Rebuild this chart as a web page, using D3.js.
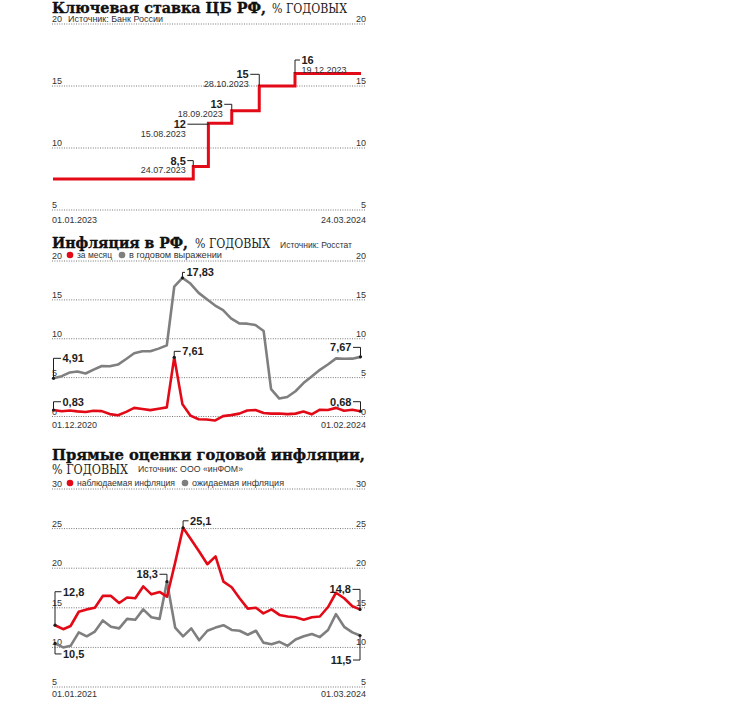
<!DOCTYPE html>
<html><head><meta charset="utf-8">
<script src="https://cdn.jsdelivr.net/npm/d3@7"></script>
<style>body{margin:0;background:#fff}svg{display:block}</style>
</head><body><svg id="c" width="750" height="709"></svg>
<script>
// ---------- DATA ----------
// Chart 1: key rate
const rateDates = ["2023-01-01","2023-07-24","2023-08-15","2023-09-18","2023-10-28","2023-12-19","2024-03-24"];
const rateValues = [7.5, 8.5, 12, 13, 15, 16, 16];
const rateLabelDates = ["", "24.07.2023", "15.08.2023", "18.09.2023", "28.10.2023", "19.12.2023", ""];
const rateTicks = [5, 10, 15, 20];
const rateAxisLabels = ["01.01.2023", "24.03.2024"];

// Chart 2: inflation (Dec 2020 .. Feb 2024)
const inflStart = "2020-12-01", inflEnd = "2024-02-01";
const monthlyInfl = [0.83, 0.67, 0.78, 0.66, 0.58, 0.74, 0.69, 0.31, 0.17, 0.60, 1.11, 0.96, 0.82,
  0.99, 1.17, 7.61, 1.56, 0.12, -0.35, -0.39, -0.52, 0.05, 0.18, 0.37, 0.78,
  0.84, 0.46, 0.37, 0.38, 0.31, 0.37, 0.63, 0.28, 0.87, 0.83, 1.11, 0.73,
  0.86, 0.68];
const annualInfl = [4.91, 5.19, 5.67, 5.79, 5.53, 6.02, 6.50, 6.46, 6.68, 7.40, 8.13, 8.40, 8.39,
  8.73, 9.15, 16.69, 17.83, 17.10, 15.90, 15.10, 14.30, 13.68, 12.63, 11.98, 11.94,
  11.77, 10.99, 3.51, 2.31, 2.51, 3.25, 4.30, 5.15, 6.00, 6.69, 7.48, 7.42,
  7.44, 7.67];
const inflTicks = [0, 5, 10, 15, 20];
const inflAxisLabels = ["01.12.2020", "01.02.2024"];

// Chart 3: inFOM estimates (Jan 2021 .. Mar 2024)
const estStart = "2021-01-01", estEnd = "2024-03-01";
const observedInfl = [12.8, 12.3, 12.7, 14.5, 14.8, 15.0, 16.5, 16.5, 15.6, 16.3, 16.2, 17.7,
  16.7, 17.0, 16.4, 20.7, 25.1, 23.6, 22.1, 20.5, 21.5, 18.3, 17.6, 16.2,
  14.9, 15.0, 14.3, 14.8, 14.1, 13.9, 13.8, 13.5, 13.8, 13.9, 15.1, 16.9,
  16.2, 15.2, 14.8];
const expectedInfl = [10.5, 10.0, 10.2, 11.9, 11.4, 12.0, 13.4, 12.6, 12.4, 13.6, 13.5, 14.8,
  13.8, 13.6, 18.3, 12.5, 11.4, 12.4, 10.9, 12.1, 12.5, 12.8, 12.2, 12.1,
  11.6, 12.1, 10.6, 10.4, 10.7, 10.2, 11.0, 11.4, 11.7, 11.3, 12.2, 14.2,
  12.6, 11.9, 11.5];
const estTicks = [5, 10, 15, 20, 25, 30];
const estAxisLabels = ["01.01.2021", "01.03.2024"];

// ---------- STYLE ----------
const RED = "#e30a17", GREY = "#7f7f7f", INK = "#1e1e1e";
const SANS = "'Liberation Sans', Arial, sans-serif";
const SERIF = "'DejaVu Serif', serif";
const parse = d3.timeParse("%Y-%m-%d");
const fmtNum = v => String(v).replace(".", ",");
const svg = d3.select("#c");
svg.append("rect").attr("width", 750).attr("height", 709).attr("fill", "#fff");

const GX0 = 52, GX1 = 366;

function title(y, text, w) {
  svg.append("text").attr("x", GX0).attr("y", y).text(text)
    .attr("font-family", SERIF).attr("font-weight", "bold").attr("font-size", 14.5)
    .attr("fill", "#111").attr("stroke", "#111").attr("stroke-width", 0.35)
    .attr("textLength", w).attr("lengthAdjust", "spacingAndGlyphs");
}
function subTitle(x, y, text, w) {
  svg.append("text").attr("x", x).attr("y", y).text(text)
    .attr("font-family", SERIF).attr("font-size", 12).attr("fill", "#222")
    .attr("textLength", w).attr("lengthAdjust", "spacingAndGlyphs");
}
function small(x, y, text, anchor, w) {
  const t = svg.append("text").attr("x", x).attr("y", y).text(text)
    .attr("font-family", SANS).attr("font-size", 9).attr("fill", "#333")
    .attr("text-anchor", anchor || "start");
  if (w) t.attr("textLength", w).attr("lengthAdjust", "spacingAndGlyphs");
  return t;
}
function grid(y, ticks) {
  const g = svg.append("g");
  ticks.forEach(t => {
    g.append("line").attr("x1", GX0).attr("x2", GX1).attr("y1", y(t)).attr("y2", y(t))
      .attr("stroke", "#777").attr("stroke-width", 1).attr("stroke-dasharray", "1,1.4");
    small(GX0, y(t) - 2, t, "start");
    small(GX1, y(t) - 2, t, "end");
  });
}
function legendItem(cx, cy, color, text, w) {
  svg.append("circle").attr("cx", cx).attr("cy", cy).attr("r", 3.3).attr("fill", color);
  small(cx + 7, cy + 3, text, "start", w);
}
// annotation: point (px,py), elbow dy, horizontal len with side (+1 right / -1 left)
function annotate(px, py, dy, side, len, value, dateText, dot) {
  const cy = py + dy, ex = px + side * len;
  svg.append("path").attr("d", `M${px},${py}V${cy}H${ex}`)
    .attr("fill", "none").attr("stroke", INK).attr("stroke-width", 1);
  if (dot) svg.append("circle").attr("cx", px).attr("cy", py).attr("r", 1.6).attr("fill", INK);
  const lx = ex + side * 1.5, anchor = side > 0 ? "start" : "end";
  svg.append("text").attr("x", lx).attr("y", cy + 4).text(fmtNum(value))
    .attr("font-family", SANS).attr("font-weight", "bold").attr("font-size", 11)
    .attr("fill", INK).attr("text-anchor", anchor);
  if (dateText) small(lx, cy + 12.5, dateText, anchor);
}

// ---------- CHART 1 ----------
{
  const x = d3.scaleTime().domain([parse(rateDates[0]), parse(rateDates[rateDates.length - 1])]).range([53, 361]);
  const y = d3.scaleLinear().domain([5, 20]).range([210, 24]);
  title(13, "Ключевая ставка ЦБ РФ,", 214);
  subTitle(272, 13, "% ГОДОВЫХ", 75);
  grid(y, rateTicks);
  small(68, 22, "Источник: Банк России", "start", 95);
  const data = rateDates.map((d, i) => ({ d: parse(d), v: rateValues[i] }));
  svg.append("path").datum(data)
    .attr("d", d3.line().x(d => x(d.d)).y(d => y(d.v)).curve(d3.curveStepAfter))
    .attr("fill", "none").attr("stroke", RED).attr("stroke-width", 3);
  small(GX0, 223, rateAxisLabels[0], "start");
  small(GX1, 223, rateAxisLabels[1], "end");
  const ann = [null,
    { dy: -6, side: -1, len: 6 },
    { dy: 1, side: -1, len: 21 },
    { dy: -6.5, side: -1, len: 7.5 },
    { dy: -11.7, side: -1, len: 9 },
    { dy: -13.6, side: 1, len: 5 }];
  for (let i = 1; i <= 5; i++) {
    const a = ann[i];
    annotate(x(data[i].d), y(data[i].v), a.dy, a.side, a.len, rateValues[i], rateLabelDates[i], false);
  }
}

// ---------- CHART 2 ----------
{
  const months = d3.timeMonth.range(parse(inflStart), d3.timeMonth.offset(parse(inflEnd), 1));
  const x = d3.scaleTime().domain([parse(inflStart), parse(inflEnd)]).range([53.5, 360.5]);
  const y = d3.scaleLinear().domain([0, 20]).range([416.5, 261]);
  title(248, "Инфляция в РФ,", 136);
  subTitle(195, 248, "% ГОДОВЫХ", 75);
  small(280, 248, "Источник: Росстат", "start", 72);
  grid(y, inflTicks);
  legendItem(70, 255, RED, "за месяц", 35);
  legendItem(122, 255, GREY, "в годовом выражении", 93);
  const line = d3.line().x((d, i) => x(months[i])).y(d => y(d));
  svg.append("path").datum(annualInfl).attr("d", line)
    .attr("fill", "none").attr("stroke", GREY).attr("stroke-width", 2.6).attr("stroke-linejoin", "round");
  svg.append("path").datum(monthlyInfl).attr("d", line)
    .attr("fill", "none").attr("stroke", RED).attr("stroke-width", 2.6).attr("stroke-linejoin", "round");
  small(GX0, 428, inflAxisLabels[0], "start");
  small(GX1, 428, inflAxisLabels[1], "end");
  const n = months.length - 1;
  annotate(x(months[0]), y(annualInfl[0]), -20, 1, 7.5, annualInfl[0], null, true);
  annotate(x(months[0]), y(monthlyInfl[0]), -8.3, 1, 7.5, monthlyInfl[0], null, true);
  annotate(x(months[15]), y(monthlyInfl[15]), -6, 1, 6.5, monthlyInfl[15], null, true);
  annotate(x(months[16]), y(annualInfl[16]), -5.5, 1, 2.5, annualInfl[16], null, true);
  annotate(x(months[n]), y(annualInfl[n]), -9.5, -1, 7.5, annualInfl[n], null, true);
  annotate(x(months[n]), y(monthlyInfl[n]), -9.5, -1, 7.5, monthlyInfl[n], null, true);
}

// ---------- CHART 3 ----------
{
  const months = d3.timeMonth.range(parse(estStart), d3.timeMonth.offset(parse(estEnd), 1));
  const x = d3.scaleTime().domain([parse(estStart), parse(estEnd)]).range([55, 360]);
  const y = d3.scaleLinear().domain([5, 30]).range([687, 489]);
  title(459.5, "Прямые оценки годовой инфляции,", 313);
  subTitle(GX0, 473.5, "% ГОДОВЫХ", 76);
  small(138, 472, "Источник: ООО «инФОМ»", "start", 105);
  grid(y, estTicks);
  legendItem(70, 483, RED, "наблюдаемая инфляция", 98);
  legendItem(185, 483, GREY, "ожидаемая инфляция", 92);
  const line = d3.line().x((d, i) => x(months[i])).y(d => y(d));
  svg.append("path").datum(expectedInfl).attr("d", line)
    .attr("fill", "none").attr("stroke", GREY).attr("stroke-width", 2.6).attr("stroke-linejoin", "round");
  svg.append("path").datum(observedInfl).attr("d", line)
    .attr("fill", "none").attr("stroke", RED).attr("stroke-width", 2.6).attr("stroke-linejoin", "round");
  small(GX0, 697, estAxisLabels[0], "start");
  small(GX1, 697, estAxisLabels[1], "end");
  const n = months.length - 1;
  annotate(x(months[0]), y(observedInfl[0]), -33.5, 1, 6.5, observedInfl[0], null, true);
  annotate(x(months[0]), y(expectedInfl[0]), 10.5, 1, 6.5, expectedInfl[0], null, true);
  annotate(x(months[14]), y(expectedInfl[14]), -7.4, -1, 7.5, expectedInfl[14], null, true);
  annotate(x(months[16]), y(observedInfl[16]), -7, 1, 5.5, observedInfl[16], null, true);
  annotate(x(months[n]), y(observedInfl[n]), -20, -1, 7.5, observedInfl[n], null, true);
  annotate(x(months[n]), y(expectedInfl[n]), 24.5, -1, 7, expectedInfl[n], null, true);
}
</script></body></html>
